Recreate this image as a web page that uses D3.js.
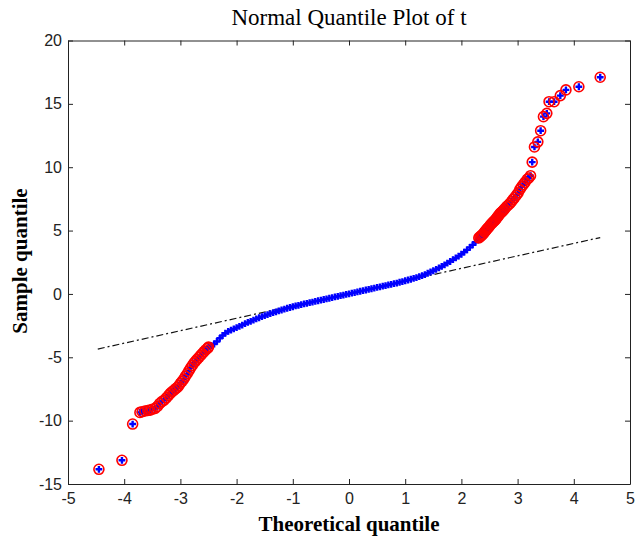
<!DOCTYPE html>
<meta charset="utf-8">
<script src="https://d3js.org/d3.v7.min.js"></script>
<html>
<head>
<style>
body { margin: 0; background: #fff; }
.tick text { font-family: "Liberation Sans", Arial, sans-serif; font-size: 16px; fill: #222; }
.tick line, .domain { stroke: #222; }
</style>
</head>
<body>
<div id="chart"></div>
<script>

// axis ticks
var xTicks = [-5, -4, -3, -2, -1, 0, 1, 2, 3, 4, 5];
var yTicks = [-15, -10, -5, 0, 5, 10, 15, 20];

// reference line (dash-dot), two end points
var refQ = [-4.47, 4.47];
var refS = [-4.35, 4.45];

// body of the sample (blue +)
var bodyQ = [-2.45, -2.4, -2.35, -2.3, -2.25, -2.2, -2.15, -2.1, -2.05, -2.0,
  -1.95, -1.9, -1.85, -1.8, -1.75, -1.7, -1.65, -1.6, -1.55, -1.5,
  -1.45, -1.4, -1.35, -1.3, -1.25, -1.2, -1.15, -1.1, -1.05, -1.0,
  -0.95, -0.9, -0.85, -0.8, -0.75, -0.7, -0.65, -0.6, -0.55, -0.5,
  -0.45, -0.4, -0.35, -0.3, -0.25, -0.2, -0.15, -0.1, -0.05, 0,
  0.05, 0.1, 0.15, 0.2, 0.25, 0.3, 0.35, 0.4, 0.45, 0.5,
  0.55, 0.6, 0.65, 0.7, 0.75, 0.8, 0.85, 0.9, 0.95, 1.0,
  1.05, 1.1, 1.15, 1.2, 1.25, 1.3, 1.35, 1.4, 1.45, 1.5,
  1.55, 1.6, 1.65, 1.7, 1.75, 1.8, 1.85, 1.9, 1.95, 2.0,
  2.05, 2.1, 2.15, 2.2, 2.25, 2.3];
var bodyS = [-4.08, -3.95, -3.75, -3.5, -3.28, -3.1, -2.96, -2.85, -2.76, -2.66,
  -2.56, -2.46, -2.35, -2.25, -2.16, -2.06, -1.97, -1.88, -1.79, -1.71,
  -1.63, -1.55, -1.48, -1.41, -1.34, -1.27, -1.2, -1.13, -1.07, -1.01,
  -0.95, -0.9, -0.84, -0.79, -0.74, -0.69, -0.64, -0.59, -0.54, -0.49,
  -0.44, -0.39, -0.34, -0.29, -0.24, -0.19, -0.14, -0.09, -0.04, 0.01,
  0.06, 0.11, 0.16, 0.21, 0.26, 0.31, 0.36, 0.41, 0.46, 0.51,
  0.56, 0.61, 0.66, 0.71, 0.76, 0.81, 0.86, 0.92, 0.97, 1.04,
  1.1, 1.16, 1.22, 1.29, 1.36, 1.44, 1.53, 1.63, 1.73, 1.83,
  1.94, 2.05, 2.17, 2.3, 2.43, 2.56, 2.7, 2.84, 2.98, 3.13,
  3.3, 3.48, 3.67, 3.87, 4.08, 4.3];

// lower tail (blue + with red circle)
var lowQ = [-4.45, -4.04, -3.85, -3.72, -3.68, -3.63, -3.58, -3.54, -3.5, -3.45,
  -3.41, -3.37, -3.33, -3.29, -3.25, -3.21, -3.18, -3.15, -3.12, -3.09,
  -3.06, -3.03, -3.0, -2.97, -2.94, -2.91, -2.88, -2.85, -2.82, -2.79,
  -2.76, -2.73, -2.7, -2.67, -2.64, -2.61, -2.58, -2.55, -2.52, -2.5];
var lowS = [-13.84, -13.13, -10.27, -9.35, -9.3, -9.24, -9.2, -9.17, -9.1, -9.03,
  -8.88, -8.65, -8.5, -8.38, -8.2, -8.0, -7.85, -7.72, -7.62, -7.5,
  -7.4, -7.25, -7.05, -6.9, -6.72, -6.5, -6.3, -6.08, -5.85, -5.65,
  -5.45, -5.3, -5.15, -5.0, -4.85, -4.7, -4.55, -4.42, -4.3, -4.2];

// upper tail (blue + with red circle)
var highQ = [2.31, 2.33, 2.35, 2.37, 2.39, 2.41, 2.43, 2.45, 2.47, 2.49,
  2.51, 2.53, 2.55, 2.57, 2.59, 2.61, 2.63, 2.65, 2.67, 2.69,
  2.71, 2.73, 2.75, 2.77, 2.8, 2.83, 2.86, 2.89, 2.92, 2.95,
  2.98, 3.01, 3.04, 3.07, 3.1, 3.13, 3.17, 3.2, 3.23, 3.26,
  3.3, 3.36, 3.41, 3.46, 3.52, 3.56, 3.65, 3.76, 3.86, 4.09, 4.47];
var highS = [4.42, 4.5, 4.58, 4.66, 4.75, 4.88, 4.98, 5.1, 5.2, 5.28,
  5.42, 5.52, 5.6, 5.7, 5.78, 5.88, 6.0, 6.12, 6.24, 6.36,
  6.44, 6.52, 6.62, 6.72, 6.88, 7.0, 7.12, 7.28, 7.46, 7.62,
  7.8, 7.98, 8.25, 8.45, 8.62, 8.8, 9.05, 9.15, 9.33, 10.4,
  11.6, 12.0, 12.88, 13.99, 14.25, 15.17, 15.17, 15.65, 16.1, 16.35, 17.1];

var W = 635, H = 539;
var margin = {top: 40.5, right: 5, bottom: 55, left: 68};
var width = W - margin.left - margin.right,
    height = H - margin.top - margin.bottom;

var svg = d3.select("#chart").append("svg")
    .attr("width", W)
    .attr("height", H);
var g = svg.append("g")
    .attr("transform", "translate(" + margin.left + "," + margin.top + ")");

var x = d3.scaleLinear().domain([-5, 5]).range([0, width]);
var y = d3.scaleLinear().domain([-15, 20]).range([height, 0]);

var fmt = function(d) { return String(d); };

// axes with inward ticks on all four sides
g.append("g")
  .attr("transform", "translate(0," + height + ")")
  .call(d3.axisBottom(x).tickValues(xTicks).tickFormat(fmt).tickSizeInner(-5).tickSizeOuter(0).tickPadding(9));
g.append("g")
  .call(d3.axisLeft(y).tickValues(yTicks).tickFormat(fmt).tickSizeInner(-5).tickSizeOuter(0).tickPadding(6));
g.append("g")
  .call(d3.axisTop(x).tickValues(xTicks).tickFormat("").tickSizeInner(-5).tickSizeOuter(0));
g.append("g")
  .attr("transform", "translate(" + width + ",0)")
  .call(d3.axisRight(y).tickValues(yTicks).tickFormat("").tickSizeInner(-5).tickSizeOuter(0));

// reference line
g.append("path")
  .datum(d3.zip(refQ, refS))
  .attr("fill", "none")
  .attr("stroke", "#111")
  .attr("stroke-width", 1.2)
  .attr("stroke-dasharray", "7,3,2,3")
  .attr("d", d3.line().x(function(d) { return x(d[0]); }).y(function(d) { return y(d[1]); }));

var pts = d3.zip(bodyQ, bodyS).concat(d3.zip(lowQ, lowS), d3.zip(highQ, highS));
var tails = d3.zip(lowQ, lowS).concat(d3.zip(highQ, highS));

// blue plus markers
var plus = "M-3.4,0H3.4M0,-3.4V3.4";
g.append("g").selectAll("path")
  .data(pts)
  .enter().append("path")
    .attr("transform", function(d) { return "translate(" + x(d[0]) + "," + y(d[1]) + ")"; })
    .attr("d", plus)
    .attr("stroke", "#0000ff")
    .attr("stroke-width", 2.4);

// red circles around the tail points
g.append("g").selectAll("circle")
  .data(tails)
  .enter().append("circle")
    .attr("cx", function(d) { return x(d[0]); })
    .attr("cy", function(d) { return y(d[1]); })
    .attr("r", 5)
    .attr("fill", "none")
    .attr("stroke", "#ff0000")
    .attr("stroke-width", 1.6);

// titles
svg.append("text")
  .attr("x", 349).attr("y", 25)
  .attr("text-anchor", "middle")
  .style("font-family", "'Liberation Serif', 'Times New Roman', serif")
  .style("font-size", "23px")
  .text("Normal Quantile Plot of t");

svg.append("text")
  .attr("x", 349).attr("y", 531)
  .attr("text-anchor", "middle")
  .style("font-family", "'Liberation Serif', 'Times New Roman', serif")
  .style("font-size", "21px")
  .style("font-weight", "bold")
  .text("Theoretical quantile");

svg.append("text")
  .attr("transform", "translate(27,261) rotate(-90)")
  .attr("text-anchor", "middle")
  .style("font-family", "'Liberation Serif', 'Times New Roman', serif")
  .style("font-size", "21px")
  .style("font-weight", "bold")
  .text("Sample quantile");

</script>
</body>
</html>
